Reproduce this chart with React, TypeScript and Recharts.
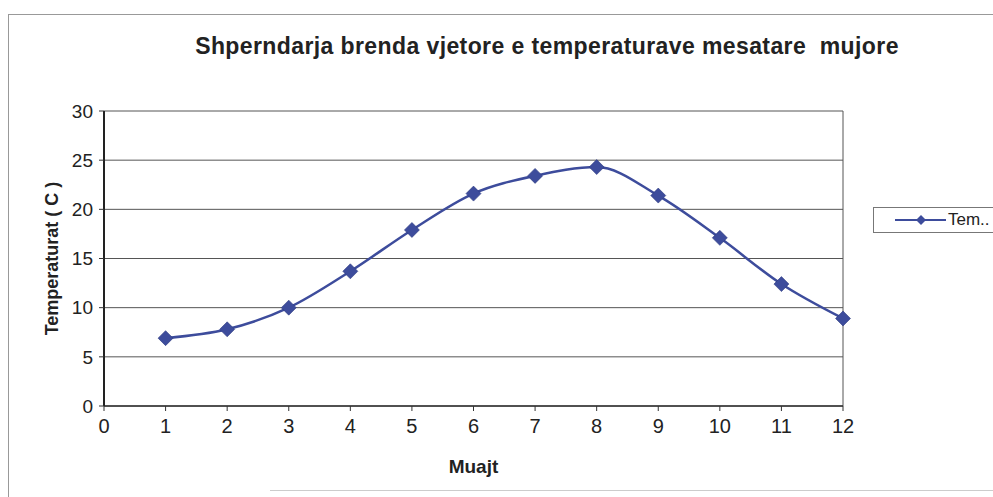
import { LineChart, Line, XAxis, YAxis, CartesianGrid, ReferenceLine } from 'recharts'

const months = [1, 2, 3, 4, 5, 6, 7, 8, 9, 10, 11, 12]
const temps = [6.9, 7.8, 10.0, 13.7, 17.9, 21.6, 23.4, 24.3, 21.4, 17.1, 12.4, 8.9]
const xTicks = [0, 1, 2, 3, 4, 5, 6, 7, 8, 9, 10, 11, 12]
const yTicks = [0, 5, 10, 15, 20, 25, 30]

const data = months.map((m, i) => ({ month: m, temp: temps[i] }))

const lineColor = '#3d4c9c'
const font = '"Liberation Sans", Arial, sans-serif'
const narrow = '"Liberation Sans Narrow", "Arial Narrow", "Liberation Sans", sans-serif'

function Diamond(props: any) {
  const { cx, cy } = props
  if (cx == null || cy == null) return null
  const r = 7.5
  return (
    <path
      d={`M${cx},${cy - r} L${cx + r},${cy} L${cx},${cy + r} L${cx - r},${cy} Z`}
      fill={lineColor}
      stroke="#2e3a80"
      strokeWidth={0.6}
    />
  )
}

function LegendBox() {
  return (
    <div
      style={{
        position: 'absolute',
        left: 873,
        top: 207,
        width: 140,
        height: 24,
        border: '1px solid #777',
        display: 'flex',
        alignItems: 'center',
        fontFamily: font,
        fontSize: 17,
        color: '#222',
        background: '#fff',
      }}
    >
      <svg width={74} height={20} style={{ flex: 'none' }}>
        <line x1={21} y1={10} x2={72} y2={10} stroke={lineColor} strokeWidth={2} />
        <path d="M47,5 L52,10 L47,15 L42,10 Z" fill={lineColor} />
      </svg>
      <span>Tem..</span>
    </div>
  )
}

export default function App() {
  return (
    <div style={{ position: 'absolute', left: 0, top: 0, width: 993, height: 497, background: '#fff', overflow: 'hidden' }}>
      <div
        style={{
          position: 'absolute',
          left: 8,
          top: 14,
          width: 1000,
          height: 500,
          borderTop: '1px solid #999',
          borderLeft: '1px solid #999',
        }}
      />
      <div style={{ position: 'absolute', left: 270, top: 490, width: 730, borderTop: '1px solid #ccc' }} />
      <div
        style={{
          position: 'absolute',
          left: 0,
          top: 33,
          width: 1094,
          textAlign: 'center',
          fontFamily: font,
          fontWeight: 'bold',
          fontSize: 23,
          letterSpacing: 0.4,
          color: '#222',
        }}
      >
        Shperndarja brenda vjetore e temperaturave mesatare&nbsp; mujore
      </div>
      <div style={{ position: 'absolute', left: 0, top: 0 }}>
        <LineChart
          width={993}
          height={497}
          data={data}
          margin={{ top: 111, right: 150, bottom: 0, left: 0 }}
        >
          <CartesianGrid horizontal vertical={false} stroke="#555" strokeWidth={1} />
          <ReferenceLine x={12} stroke="#555" />
          <XAxis
            dataKey="month"
            type="number"
            domain={[0, 12]}
            ticks={xTicks}
            interval={0}
            axisLine={{ stroke: '#333', strokeWidth: 1.5 }}
            tickLine={{ stroke: '#333' }}
            tickSize={5}
            tick={{ fontSize: 20, fill: '#222', fontFamily: narrow, dy: 6 }}
            label={{
              value: 'Muajt',
              position: 'insideBottom',
              offset: 24,
              style: { fontSize: 19, fontWeight: 'bold', fill: '#222', fontFamily: narrow },
            }}
            height={91}
          />
          <YAxis
            type="number"
            domain={[0, 30]}
            ticks={yTicks}
            interval={0}
            width={104}
            axisLine={{ stroke: '#222', strokeWidth: 2 }}
            tickLine={{ stroke: '#333' }}
            tickSize={5}
            tick={{ fontSize: 19, fill: '#222', fontFamily: font, dx: -4 }}
            label={{
              value: 'Temperaturat ( C )',
              angle: -90,
              position: 'insideLeft',
              offset: 52,
              style: { textAnchor: 'middle', fontSize: 18, fontWeight: 'bold', fill: '#222', fontFamily: font },
            }}
          />
          <Line
            type="monotone"
            dataKey="temp"
            name="Tem.."
            stroke={lineColor}
            strokeWidth={2.5}
            dot={<Diamond />}
            activeDot={false}
            isAnimationActive={false}
          />
        </LineChart>
      </div>
      <LegendBox />
    </div>
  )
}
